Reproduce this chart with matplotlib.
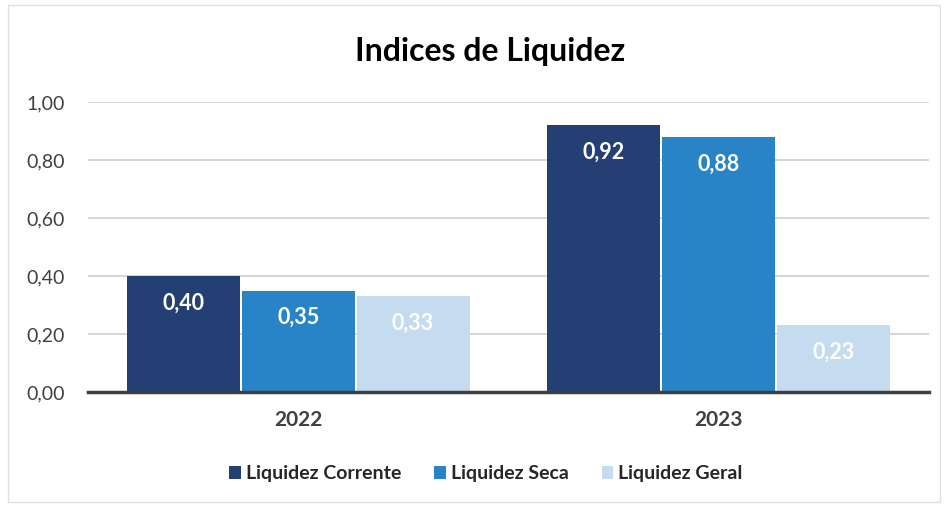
import matplotlib
matplotlib.use("Agg")
import matplotlib.pyplot as plt
import matplotlib.patches as mpatches
import numpy as np

categories = ["2022", "2023"]
series_names = ["Liquidez Corrente", "Liquidez Seca", "Liquidez Geral"]
corrente = [0.40, 0.92]
seca = [0.35, 0.88]
geral = [0.33, 0.23]
yticks = [0.0, 0.2, 0.4, 0.6, 0.8, 1.0]
title = "Indices de Liquidez"

colors = ["#243F73", "#2984C7", "#C5DBF0"]
plt.rcParams['font.family'] = ['Lato', 'DejaVu Sans']

fig = plt.figure(figsize=(9.45, 5.05), dpi=100)
ax = fig.add_axes([88/945, 1-392/505, (929-88)/945, (392-102)/505])

x = np.arange(len(categories))
w = 0.273
data = [corrente, seca, geral]
for i, (vals, name, c) in enumerate(zip(data, series_names, colors)):
    pos = x + (i - 1) * w
    ax.bar(pos, vals, width=w*0.985, color=c, label=name, zorder=3)
    for xb, v in zip(pos, vals):
        ax.annotate(f"{v:.2f}".replace(".", ","), (xb, v), xytext=(0, -27),
                    textcoords="offset pixels",
                    ha="center", va="center", color="white", fontsize=15.5,
                    fontweight="bold", zorder=4)

ax.set_xlim(-0.5, 1.5)
ax.set_ylim(0, 1.0)
ax.set_yticks(yticks)
ax.set_yticklabels([f"{t:.2f}".replace(".", ",") for t in yticks], fontsize=14, color="#404040")
ax.set_xticks(x)
ax.set_xticklabels(categories, fontsize=15, fontweight="bold", color="#404040")
ax.tick_params(axis="both", length=0)
ax.tick_params(axis="y", pad=17)
ax.tick_params(axis="x", pad=13)
ax.grid(axis="y", color="#D0D0D0", linewidth=1.2, zorder=0)
for s in ["top", "right", "left"]:
    ax.spines[s].set_visible(False)
ax.spines["bottom"].set_color("#404040")
ax.spines["bottom"].set_linewidth(2.5)
ax.spines["bottom"].set_zorder(5)

fig.text(490/945, 1-52/505, title, ha="center", va="center", fontsize=23, fontweight="bold", color="black")

leg = fig.legend(loc="center", bbox_to_anchor=(486/945, 1-474/505), ncol=3, frameon=False,
                 handlelength=0.6, handleheight=0.6, handletextpad=0.25, columnspacing=1.7,
                 prop={"size": 14, "weight": "bold"})
for t in leg.get_texts():
    t.set_color("#262626")

fig.patches.append(mpatches.Rectangle((8/945, 3/505), 932/945, 497/505, transform=fig.transFigure,
                                      fill=False, edgecolor="#E0E0E0", linewidth=1))

fig.savefig("out.png", dpi=100)
